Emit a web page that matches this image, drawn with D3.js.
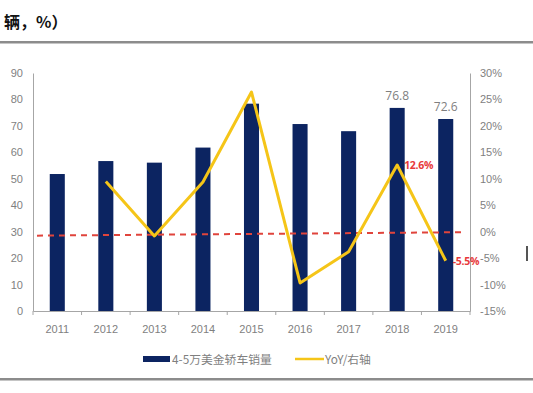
<!DOCTYPE html>
<html><head><meta charset="utf-8">
<script src="https://cdn.jsdelivr.net/npm/d3@7"></script>
<style>
body{margin:0;background:#fff;}
svg{display:block;font-family:"Open Sans","Noto Sans",sans-serif;}
</style></head>
<body><svg id="c" width="533" height="393"></svg>
<script>
const years = ["2011","2012","2013","2014","2015","2016","2017","2018","2019"];
const sales = [51.8, 56.7, 56.1, 61.8, 78.4, 70.7, 68.0, 76.8, 72.6];
const yoy = [null, 9.5, -0.8, 9.4, 26.4, -9.7, -3.8, 12.6, -5.5];
const leftTicks = [0,10,20,30,40,50,60,70,80,90];
const rightTicks = [-15,-10,-5,0,5,10,15,20,25,30];
const barLabels = {"2018":"76.8","2019":"72.6"};
const yoyLabels = {"2018":"12.6%","2019":"-5.5%"};
const refLine = [28.5, 29.8]; // left-axis values at start / end
const seriesNames = ["4-5万美金轿车销量","YoY/右轴"];
const titleText = "辆，%）";

const svg = d3.select("#c");
const L = 33, R = 470, T = 73, B = 311;
const x = d3.scaleBand().domain(years).range([L, R]).paddingInner(0.69).paddingOuter(0.345);
const xb = d3.scaleBand().domain(years).range([L, R]);
const yL = d3.scaleLinear().domain([0, 90]).range([B, T]);
const yR = d3.scaleLinear().domain([-15, 30]).range([B, T]);
const gray = "#a6a6a6", tcol = "#7f7f7f";

// title + rules
svg.append("text").attr("x", 4).attr("y", 28).text(titleText)
  .attr("font-family", "'Noto Sans CJK SC'").attr("font-weight", "bold").attr("font-size", 16).attr("fill", "#111");
svg.append("rect").attr("x", 0).attr("y", 41).attr("width", 533).attr("height", 2.5).attr("fill", "#8c8c8c");
svg.append("rect").attr("x", 0).attr("y", 378).attr("width", 533).attr("height", 2.5).attr("fill", "#8c8c8c");

// left axis
const gl = svg.append("g").attr("transform", `translate(${L},0)`)
  .call(d3.axisLeft(yL).tickValues(leftTicks).tickSize(0).tickPadding(10));
gl.select(".domain").attr("stroke", gray);
gl.selectAll("text").attr("fill", tcol).attr("font-size", 11);

// right axis
const gr = svg.append("g").attr("transform", `translate(${R},0)`)
  .call(d3.axisRight(yR).tickValues(rightTicks).tickSize(0).tickPadding(10).tickFormat(d => d + "%"));
gr.select(".domain").attr("stroke", gray);
gr.selectAll("text").attr("fill", tcol).attr("font-size", 11);

// bottom axis
const gb = svg.append("g").attr("transform", `translate(0,${B})`)
  .call(d3.axisBottom(xb).tickSize(0).tickPadding(14));
gb.select(".domain").attr("stroke", gray);
gb.selectAll("text").attr("fill", tcol).attr("font-size", 11);
gb.selectAll(".bt").data(years.concat(["end"])).enter().append("line")
  .attr("x1", (d,i) => L + i * xb.step()).attr("x2", (d,i) => L + i * xb.step())
  .attr("y1", 0).attr("y2", 4).attr("stroke", gray);

// bars
svg.append("g").selectAll("rect").data(years).enter().append("rect")
  .attr("x", d => x(d)).attr("width", x.bandwidth())
  .attr("y", (d,i) => yL(sales[i])).attr("height", (d,i) => B - yL(sales[i]))
  .attr("fill", "#0c2461");

// bar labels
svg.append("g").selectAll("text").data(Object.keys(barLabels)).enter().append("text")
  .attr("x", d => xb(d) + xb.bandwidth()/2)
  .attr("y", d => yL(sales[years.indexOf(d)]) - 8)
  .attr("text-anchor", "middle").attr("fill", tcol).attr("font-size", 12).text(d => barLabels[d]);

// ref dashed line
svg.append("line")
  .attr("x1", L + 4).attr("x2", R - 4)
  .attr("y1", yL(refLine[0])).attr("y2", yL(refLine[1]))
  .attr("stroke", "#e0443c").attr("stroke-width", 2).attr("stroke-dasharray", "6,5");

// yoy line
const pts = years.map((d,i) => [xb(d) + xb.bandwidth()/2, yoy[i]]).filter(p => p[1] !== null);
svg.append("path").datum(pts)
  .attr("d", d3.line().x(p => p[0]).y(p => yR(p[1])))
  .attr("fill", "none").attr("stroke", "#f5c518").attr("stroke-width", 3).attr("stroke-linejoin", "round");

// yoy labels
svg.append("g").selectAll("text").data(Object.keys(yoyLabels)).enter().append("text")
  .attr("x", d => xb(d) + xb.bandwidth()/2 + 7)
  .attr("y", d => yR(yoy[years.indexOf(d)]) + 4)
  .attr("fill", "#e8393a").attr("font-weight", "bold").attr("font-size", 10.5).attr("letter-spacing", -0.3)
  .text(d => yoyLabels[d]);

// legend
const lg = svg.append("g");
lg.append("rect").attr("x", 143).attr("y", 356).attr("width", 27).attr("height", 6).attr("fill", "#0c2461");
lg.append("text").attr("x", 172).attr("y", 363.5).text(seriesNames[0])
  .attr("font-family", "'Noto Sans CJK SC'").attr("font-size", 11.8).attr("fill", tcol);
lg.append("line").attr("x1", 295).attr("x2", 324).attr("y1", 359).attr("y2", 359)
  .attr("stroke", "#f5c518").attr("stroke-width", 2.5);
lg.append("text").attr("x", 325).attr("y", 363.5).text(seriesNames[1])
  .attr("font-family", "'Noto Sans CJK SC'").attr("font-size", 11.8).attr("fill", tcol);

// small mark on right edge
svg.append("rect").attr("x", 526).attr("y", 246).attr("width", 2).attr("height", 15).attr("fill", "#555");
</script></body></html>
